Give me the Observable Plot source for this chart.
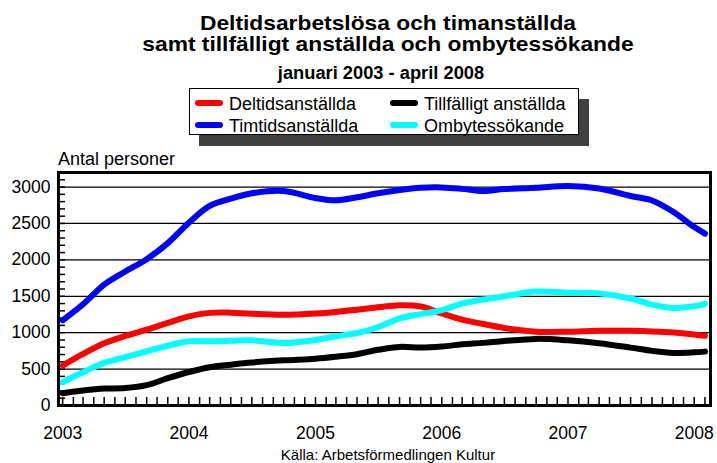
<!DOCTYPE html>
<html>
<head>
<meta charset="utf-8">
<script src="https://cdn.jsdelivr.net/npm/d3@7"></script>
<script src="https://cdn.jsdelivr.net/npm/@observablehq/plot@0.6"></script>
<style>
  html, body { margin: 0; padding: 0; background: #fff; }
  body { font-family: "Liberation Sans", Arial, sans-serif; color: #000; }
  #wrap { position: relative; width: 717px; height: 463px; overflow: hidden; }
  .abs { position: absolute; white-space: nowrap; }
  .title { left: 0; width: 776px; text-align: center; font-weight: bold; font-size: 21px; line-height: 20px; transform: scaleX(1.085); transform-origin: 388px 0; }
  .sub { left: 0; width: 762px; text-align: center; font-weight: bold; font-size: 18.3px; line-height: 18.3px; }
  #legend { position: absolute; left: 189px; top: 88px; width: 388px; height: 45px; border: 1px solid #000; background: #fff; box-shadow: 10px 11px 0 #404040; }
  .lg { position: absolute; font-size: 18px; line-height: 18px; }
  .sw { position: absolute; width: 28px; height: 6px; border-radius: 3px; }
  #chart { position: absolute; left: 0; top: 140px; }
  .ylab { left: 58px; top: 150px; font-size: 18px; line-height: 18px; }
  .cap { left: 0; width: 776px; text-align: center; font-size: 15px; line-height: 15px; top: 447px; }
</style>
</head>
<body>
<div id="wrap">
  <div class="abs title" style="top:13.4px">Deltidsarbetslösa och timanställda</div>
  <div class="abs title" style="top:34.4px">samt tillfälligt anställda och ombytessökande</div>
  <div class="abs sub" style="top:63.5px">januari 2003 - april 2008</div>
  <div id="legend"></div>
  <div class="abs ylab">Antal personer</div>
  <div id="chart"></div>
  <div class="abs cap">Källa: Arbetsförmedlingen Kultur</div>
</div>
<script>
// ---- data ----
const months = ["2003-01","2003-03","2003-05","2003-07","2003-09","2003-11",
  "2004-01","2004-03","2004-05","2004-07","2004-10",
  "2005-01","2005-03","2005-05","2005-07","2005-09","2005-11",
  "2006-01","2006-03","2006-05","2006-07","2006-10",
  "2007-01","2007-04","2007-07","2007-09","2007-11",
  "2008-01","2008-02"];
const deltidsanstallda = [548,708,855,955,1041,1135,
  1225,1272,1275,1260,1247,
  1264,1285,1315,1348,1378,1360,
  1265,1180,1119,1065,1014,
  1014,1027,1025,1018,1004,
  975,959];
const timtidsanstallda = [1170,1390,1660,1840,2010,2230,
  2510,2740,2840,2915,2945,
  2850,2818,2860,2915,2960,2990,
  2995,2975,2945,2972,2990,
  3015,2980,2877,2815,2660,
  2450,2360];
const tillfalligt = [169,205,232,240,280,375,
  460,525,560,590,620,
  643,670,705,765,805,795,
  810,840,860,887,915,
  895,855,795,750,722,
  730,740];
const ombytessokande = [320,457,585,665,745,820,
  882,882,888,895,858,
  900,950,995,1075,1195,1255,
  1310,1400,1455,1500,1565,
  1550,1540,1470,1385,1340,
  1365,1397];
const seriesNames = ["Deltidsanställda","Timtidsanställda","Tillfälligt anställda","Ombytessökande"];
const seriesColors = ["#ff0000","#0000ff","#000000","#00ffff"];
const yTickValues = [0,500,1000,1500,2000,2500,3000];
const xTickYears = ["2003","2004","2005","2006","2007","2008"];

// ---- build ----
const parseMonth = d3.utcParse("%Y-%m");
const seriesValues = [deltidsanstallda, timtidsanstallda, tillfalligt, ombytessokande];
const rows = seriesValues.map((vals, s) =>
  months.map((m, i) => ({date: parseMonth(m), value: vals[i], series: seriesNames[s]})));

const xDomain = [new Date(Date.UTC(2002, 11, 20)), new Date(Date.UTC(2008, 1, 17))];
const monthTicks = d3.utcMonth.range(new Date(Date.UTC(2003, 0, 1)), new Date(Date.UTC(2008, 1, 2)));
const minorY = d3.range(100, 3200, 100);
const yearTicks = xTickYears.map(y => d3.utcParse("%Y")(y));

const W = 717, H = 306, mT = 32, mB = 41, mL = 58, mR = 7;
const plotH = H - mT - mB, plotW = W - mL - mR;

const chart = Plot.plot({
  width: W, height: H,
  marginTop: mT, marginBottom: mB, marginLeft: mL, marginRight: mR,
  style: {fontFamily: "Liberation Sans, Arial, sans-serif", fontSize: "17.5px", background: "transparent", color: "#000"},
  x: {type: "utc", domain: xDomain},
  y: {domain: [0, 3200]},
  marks: [
    Plot.gridY(yTickValues.filter(v => v > 0), {stroke: "#000", strokeOpacity: 1, strokeWidth: 1.2}),
    Plot.tickX(monthTicks, {x: d => d, insetTop: plotH - 8, stroke: "#000", strokeWidth: 1.5}),
    Plot.tickY(minorY, {y: d => d, insetRight: plotW - 7, stroke: "#000", strokeWidth: 1.5}),
    ...rows.map((data, s) => Plot.lineY(data, {
      x: "date", y: "value", stroke: seriesColors[s], strokeWidth: 6,
      curve: "catmull-rom", strokeLinecap: "round", strokeLinejoin: "round"
    })),
    Plot.frame({stroke: "#000", strokeWidth: 3}),
    Plot.axisY(yTickValues, {tickSize: 0, tickPadding: 8, label: null, fontSize: 17.5, tickFormat: d => String(d)}),
    Plot.axisX(yearTicks, {tickSize: 0, tickPadding: 21, tickFormat: "%Y", label: null, fontSize: 17.5})
  ]
});
document.getElementById("chart").appendChild(chart);

// ---- legend ----
const legend = document.getElementById("legend");
const legendPos = [[5, 6], [5, 28], [200, 6], [200, 28]]; // order: Deltid, Timtid, Tillfälligt, Ombytes
seriesNames.forEach((name, i) => {
  const [lx, ly] = legendPos[i];
  const sw = document.createElement("div");
  sw.className = "sw";
  sw.style.left = lx + "px";
  sw.style.top = (ly + 5) + "px";
  sw.style.background = seriesColors[i];
  legend.appendChild(sw);
  const t = document.createElement("div");
  t.className = "lg";
  t.style.left = (lx + 34) + "px";
  t.style.top = ly + "px";
  t.textContent = name;
  legend.appendChild(t);
});
</script>
</body>
</html>
